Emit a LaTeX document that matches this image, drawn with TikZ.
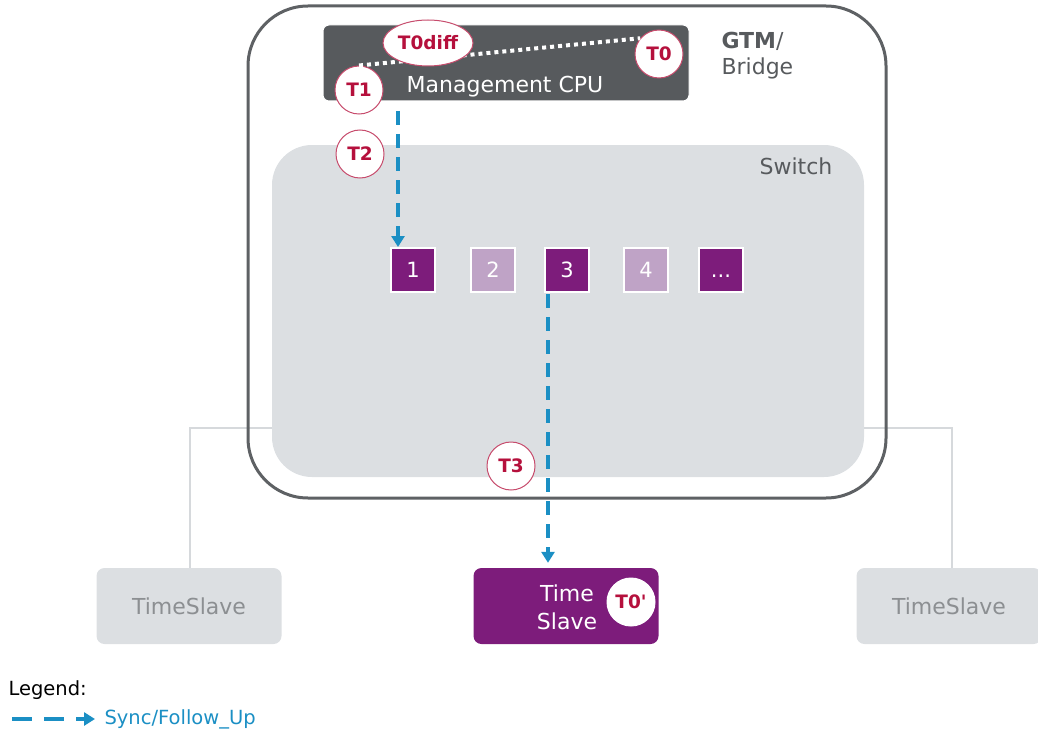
\documentclass[tikz,border=0pt]{standalone}
\usepackage{fontspec}
\setmainfont{DejaVu Sans}
\newfontfamily\stampfont{DejaVu Sans}
\usetikzlibrary{arrows.meta,shapes.geometric}

\definecolor{framegray}{HTML}{5E6164}
\definecolor{cpugray}{HTML}{575A5D}
\definecolor{switchgray}{HTML}{DCDFE2}
\definecolor{linkgray}{HTML}{D6D9DC}
\definecolor{portpurple}{HTML}{7D1C7B}
\definecolor{portlight}{HTML}{BFA3C6}
\definecolor{syncblue}{HTML}{1B8FC4}
\definecolor{stampred}{HTML}{B5103C}
\definecolor{slavetext}{HTML}{8C8F92}

\tikzset{
	port/.style={draw=white, line width=2pt, minimum size=44pt, inner sep=0pt,
		text height=15pt, text depth=0pt, text=white, font=\fontsize{21}{21}\selectfont},
	stamp/.style={circle, draw=stampred!75, fill=white, line width=1pt,
		minimum size=48pt, inner sep=0pt, text=stampred,
		font=\stampfont\bfseries\fontsize{18.5}{18.5}\selectfont},
	sync/.style={syncblue, line width=3.5pt, dash pattern=on 14pt off 9pt,
		-{Triangle[width=13pt,length=11pt]}},
	slave/.style={rounded corners=8pt, minimum width=185pt, minimum height=76pt,
		inner sep=0pt, fill=switchgray, text=slavetext, font=\fontsize{22}{22}\selectfont},
	link/.style={linkgray, line width=2pt}
}

\begin{document}
\begin{tikzpicture}[x=1pt,y=-1pt]
	\useasboundingbox (0,0) rectangle (1038,733);

	% Draw the links to the slaves
	\node[slave] (slaveL) at (189,606) {TimeSlave};
	\node[slave] (slaveR) at (949,606) {TimeSlave};
	\coordinate (cornerL) at (190,428);
	\coordinate (cornerR) at (952,428);
	\draw[link] (slaveL.north -| cornerL) -- (cornerL) -- (272,428);
	\draw[link] (slaveR.north -| cornerR) -- (cornerR) -- (864,428);

	% Draw the bridge and the switch
	\node[draw=framegray, line width=3pt, rounded corners=60pt,
		minimum width=638pt, minimum height=492pt] (gtm) at (567,252) {};
	\node[fill=switchgray, rounded corners=40pt,
		minimum width=592pt, minimum height=332pt] (switch) at (568,311) {};
	\node[text=cpugray, font=\fontsize{22}{22}\selectfont] (switchlbl) at (796,166) {Switch};
	\node[anchor=north west, align=left, text=cpugray, font=\fontsize{22}{26}\selectfont]
		(gtmlbl) at (718,29) {\textbf{GTM}/\\Bridge};

	% Draw the management CPU
	\node[fill=cpugray, draw=white, line width=1pt, rounded corners=6pt,
		minimum width=366pt, minimum height=76pt] (cpu) at (506,63) {};
	\node[text=white, font=\fontsize{22}{22}\selectfont] (cpulbl) at (505,87) {Management CPU};

	% Draw the ports
	\foreach \x/\lbl/\c [count=\i] in {413/1/portpurple, 493/2/portlight,
		567/3/portpurple, 646/4/portlight, 721/.{}.{}./portpurple}
		\node[port, fill=\c] (p\i) at (\x,270) {\lbl};

	% Draw the time slave
	\node[slave, fill=portpurple, text=white] (tslave) at (566,606) {};
	\node[align=center, text=white, font=\fontsize{22}{28}\selectfont] (tslavelbl) at (567,607) {Time\\Slave};

	% Draw the sync messages
	\coordinate (s1) at (398,111);
	\coordinate (s3) at (548,294);
	\draw[sync] (s1) -- (s1 |- p1.north);
	\draw[sync, shorten >=5pt] (s3) -- (s3 |- tslave.north);

	% Label the time stamps
	\node[stamp] (t1) at (359,90) {T1};
	\node[stamp] (t0) at (659,54) {T0};
	\draw[white, line width=4pt, dash pattern=on 4pt off 4pt] (t1.north) -- (t0.140);
	\node[stamp, ellipse, minimum width=90pt, minimum height=46pt] (t0diff) at (428,43) {T0diff};
	\node[stamp] (t2) at (360,154) {T2};
	\node[stamp] (t3) at (511,466) {T3};
	\node[stamp, draw=white] (t0s) at (631,602) {T0'};

	% Draw the legend
	\node[anchor=west, font=\fontsize{19.5}{19.5}\selectfont] (legend) at (5,690) {Legend:};
	\coordinate (lgA) at (12,719);
	\coordinate (lgB) at (95,719);
	\draw[sync, dash pattern=on 20pt off 12pt] (lgA) -- (lgB);
	\node[anchor=west, text=syncblue, font=\fontsize{19.5}{19.5}\selectfont] (lgtext) at (101,719) {Sync/Follow\_Up};
\end{tikzpicture}
\end{document}
